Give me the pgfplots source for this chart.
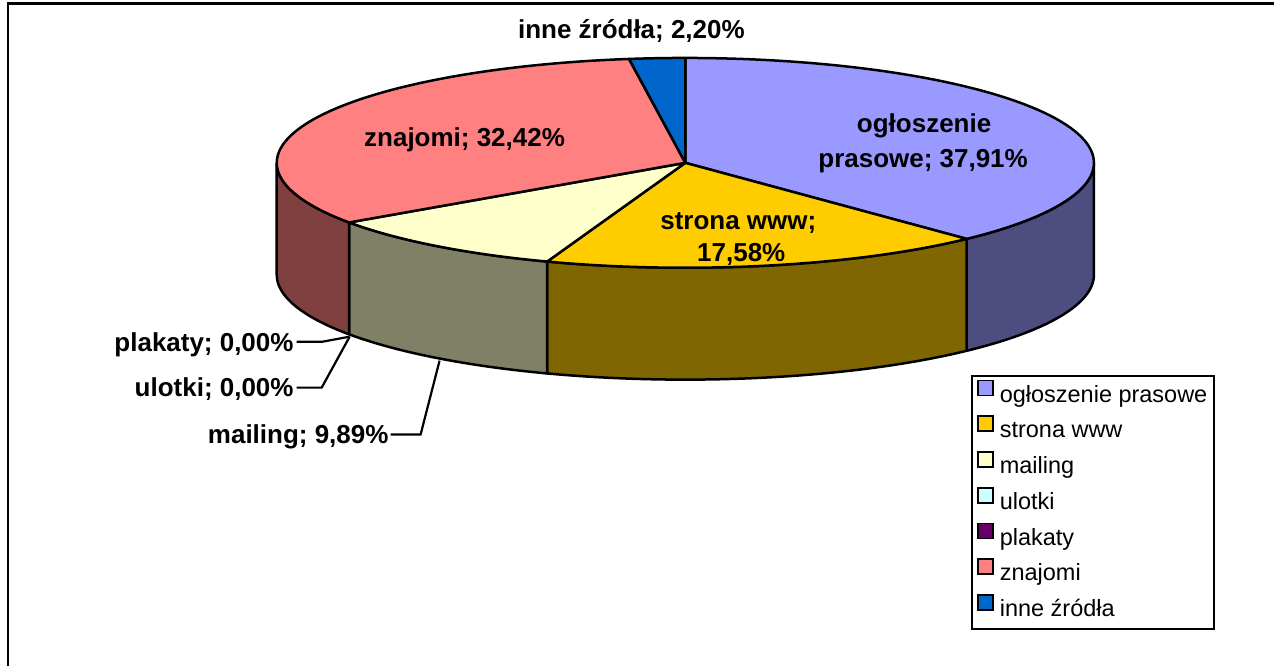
\documentclass[border=0pt]{standalone}
\usepackage{pgfplots}
\usepackage{pgfplotstable}
\pgfplotsset{compat=1.18}
\usepackage{fontspec}
\setmainfont{Liberation Sans}

\definecolor{cA}{HTML}{9999FF}\definecolor{sA}{HTML}{4D4D80}
\definecolor{cB}{HTML}{FFCC00}\definecolor{sB}{HTML}{806600}
\definecolor{cC}{HTML}{FFFFCC}\definecolor{sC}{HTML}{808066}
\definecolor{cD}{HTML}{CCFFFF}
\definecolor{cE}{HTML}{660066}
\definecolor{cF}{HTML}{FF8080}\definecolor{sF}{HTML}{804040}
\definecolor{cG}{HTML}{0066CC}

\pgfplotstableread[col sep=comma]{
name,value
ogloszenie prasowe,37.91
strona www,17.58
mailing,9.89
ulotki,0.00
plakaty,0.00
znajomi,32.42
inne zrodla,2.20
}\piedata

\pgfplotstablegetelem{0}{value}\of\piedata\let\vA\pgfplotsretval
\pgfplotstablegetelem{1}{value}\of\piedata\let\vB\pgfplotsretval
\pgfplotstablegetelem{2}{value}\of\piedata\let\vC\pgfplotsretval
\pgfplotstablegetelem{3}{value}\of\piedata\let\vD\pgfplotsretval
\pgfplotstablegetelem{4}{value}\of\piedata\let\vE\pgfplotsretval
\pgfplotstablegetelem{5}{value}\of\piedata\let\vF\pgfplotsretval
\pgfplotstablegetelem{6}{value}\of\piedata\let\vG\pgfplotsretval

\pgfmathsetmacro\aA{3.6*\vA}
\pgfmathsetmacro\aB{\aA+3.6*\vB}
\pgfmathsetmacro\aC{\aB+3.6*\vC}
\pgfmathsetmacro\aD{\aC+3.6*\vD}
\pgfmathsetmacro\aE{\aD+3.6*\vE}
\pgfmathsetmacro\aF{\aE+3.6*\vF}
\pgfmathsetmacro\aG{\aF+3.6*\vG}

% pie geometry (pixel units): centre, semi-axes, depth
\def\cx{686}\def\cy{163}\def\ra{409}\def\rb{105}\def\dep{112}

\newcommand\pieside[3]{%
\addplot[forget plot, fill=#1, draw=black, line width=2.5pt, line join=round,
  domain=0:2, samples=201, variable=\t]
  ({\cx+\ra*sin(#2+(#3-#2)*min(1,1.03*(1-abs(1-\t))))},
   {\cy-\rb*cos(#2+(#3-#2)*min(1,1.03*(1-abs(1-\t))))+\dep*(\t>1)}) -- cycle;}

\newcommand\pietop[3]{%
\addplot[forget plot, fill=#1, draw=black, line width=2.5pt, line join=round,
  domain=#2:#3, samples=120, variable=\t]
  ({\cx+\ra*sin(\t)},{\cy-\rb*cos(\t)}) -- (axis cs:\cx,\cy) -- cycle;}

\begin{document}
\begin{tikzpicture}
\begin{axis}[
  scale only axis, width=1275pt, height=667pt,
  xmin=0, xmax=1275, ymin=0, ymax=667, y dir=reverse,
  hide axis, clip=false,
  legend image code/.code={\draw[#1, line width=1.8pt] (0pt,0.5pt) rectangle (15pt,15.5pt);},
  legend cell align=left,
  legend style={at={(axis cs:972,375)}, anchor=north west, draw=black,
    line width=2pt, fill=white, inner xsep=5pt, inner ysep=4pt,
    row sep=5.4pt,
    font=\fontsize{23.5}{28}\selectfont,
    nodes={inner sep=2pt, text height=18pt, text depth=6pt},
    /tikz/every odd column/.append style={column sep=4pt}},
]
\addplot[forget plot, draw=none] coordinates {(0,0) (1275,667)};
% outer frame
\addplot[forget plot, black, line width=2.5pt] coordinates {(8,667) (8,3.5) (1275,3.5)};

% visible sides (front half)
\pieside{sA}{90}{\aA}
\pieside{sB}{\aA}{\aB}
\pieside{sC}{\aB}{\aC}
\pieside{sF}{\aE}{270}

% top faces
\pietop{cA}{0}{\aA}
\pietop{cB}{\aA}{\aB}
\pietop{cC}{\aB}{\aC}
\pietop{cF}{\aE}{\aF}
\pietop{cG}{\aF}{\aG}

% leader lines
\addplot[forget plot, black, line width=2.2pt] coordinates {(297,342) (323,342) (350,337)};
\addplot[forget plot, black, line width=2.2pt] coordinates {(297,388) (322,388) (350,337)};
\addplot[forget plot, black, line width=2.2pt] coordinates {(391,435) (421,435) (440,361)};

% legend
\addlegendimage{fill=cA, draw=black}\addlegendentry{ogłoszenie prasowe}
\addlegendimage{fill=cB, draw=black}\addlegendentry{strona www}
\addlegendimage{fill=cC, draw=black}\addlegendentry{mailing}
\addlegendimage{fill=cD, draw=black}\addlegendentry{ulotki}
\addlegendimage{fill=cE, draw=black}\addlegendentry{plakaty}
\addlegendimage{fill=cF, draw=black}\addlegendentry{znajomi}
\addlegendimage{fill=cG, draw=black}\addlegendentry{inne źródła}

% data labels
\begin{scope}[every node/.style={font=\bfseries\fontsize{26}{30}\selectfont, inner sep=0pt}]
\node[anchor=base] at (axis cs:632,39) {inne źródła; 2,20\%};
\node[anchor=base] at (axis cs:925,133) {ogłoszenie};
\node[anchor=base] at (axis cs:924,168) {prasowe; 37,91\%};
\node[anchor=base] at (axis cs:739,230) {strona www;};
\node[anchor=base] at (axis cs:742,262) {17,58\%};
\node[anchor=base] at (axis cs:465,147) {znajomi; 32,42\%};
\node[anchor=base east] at (axis cs:294,352) {plakaty; 0,00\%};
\node[anchor=base east] at (axis cs:294,397) {ulotki; 0,00\%};
\node[anchor=base east] at (axis cs:389,444) {mailing; 9,89\%};
\end{scope}
\end{axis}
\end{tikzpicture}
\end{document}
